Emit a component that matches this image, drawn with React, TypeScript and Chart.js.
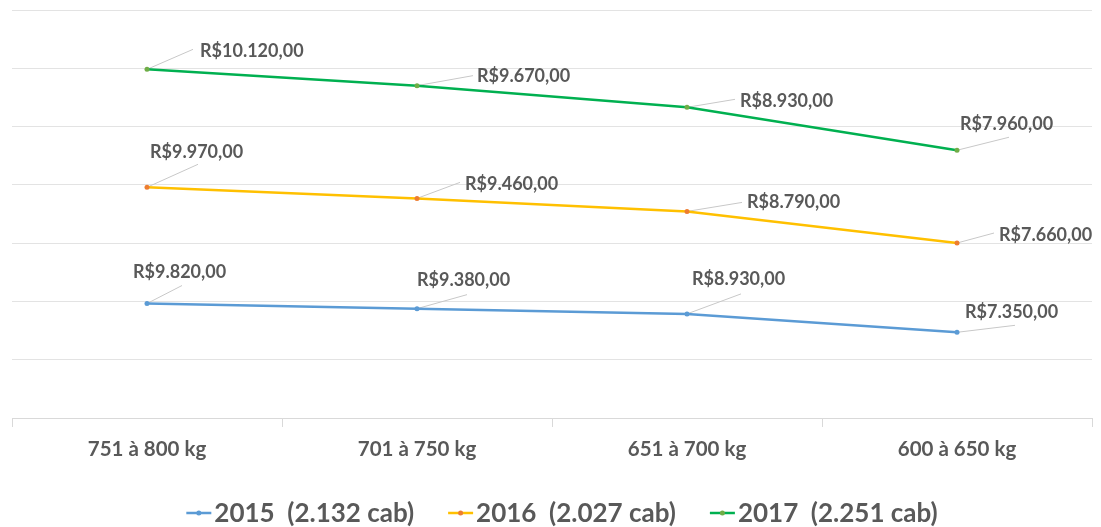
import React, { useEffect, useRef } from 'react';
import { Chart, registerables } from 'chart.js';

Chart.register(...registerables);

// ---- Data ----
const categories = ['751 à 800 kg', '701 à 750 kg', '651 à 700 kg', '600 à 650 kg'];
const seriesLabels = ['2015  (2.132 cab)', '2016  (2.027 cab)', '2017  (2.251 cab)'];
const values2015 = [9820, 9380, 8930, 7350];
const values2016 = [9970, 9460, 8790, 7660];
const values2017 = [10120, 9670, 8930, 7960];
const yMax = 35000;
const yStep = 5000;

// ---- Styles ----
const lineColors = ['#5B9BD5', '#FFC000', '#00B050'];
const markerColors = ['#5B9BD5', '#ED7D31', '#70AD47'];
const textColor = '#595959';
const fontFamily = 'Lato, "Open Sans", sans-serif';

// label placement (text left-middle and leader end, relative to point)
const labelOffsets = [
  [[-14, -31], [0, -28], [5, -35], [8, -20]],
  [[3, -35], [48, -14], [60, -9], [42, -8]],
  [[53, -18], [60, -9], [53, -6], [3, -26]],
];
const leaderEnds = [
  [[35, -18], [50, -14], [54, -20], [58, -7]],
  [[51, -23], [43, -16], [55, -9], [37, -10]],
  [[46, -20], [56, -10], [48, -8], [52, -13]],
];

function fmtBRL(v: number): string {
  const [intPart, dec] = v.toFixed(2).split('.');
  const withDots = intPart.replace(/\B(?=(\d{3})+(?!\d))/g, '.');
  return 'R$' + withDots + ',' + dec;
}

const leaderPlugin = {
  id: 'leaderLines',
  beforeDatasetsDraw(chart: any) {
    const ctx = chart.ctx;
    chart.data.datasets.forEach((ds: any, di: number) => {
      const meta = chart.getDatasetMeta(di);
      meta.data.forEach((pt: any, i: number) => {
        const [lx, ly] = leaderEnds[di][i];
        ctx.save();
        ctx.strokeStyle = '#c8c8c8';
        ctx.lineWidth = 1;
        ctx.beginPath();
        ctx.moveTo(pt.x, pt.y);
        ctx.lineTo(pt.x + lx, pt.y + ly);
        ctx.stroke();
        ctx.restore();
      });
    });
  },
  afterDatasetsDraw(chart: any) {
    const ctx = chart.ctx;
    chart.data.datasets.forEach((ds: any, di: number) => {
      const meta = chart.getDatasetMeta(di);
      meta.data.forEach((pt: any, i: number) => {
        const [tx, ty] = labelOffsets[di][i];
        ctx.save();
        ctx.font = `bold 18px ${fontFamily}`;
        ctx.fillStyle = textColor;
        ctx.textBaseline = 'middle';
        ctx.textAlign = 'left';
        ctx.fillText(fmtBRL(ds.data[i]), pt.x + tx, pt.y + ty);
        ctx.restore();
      });
    });
  },
};

const legendPlugin = {
  id: 'customLegend',
  afterDraw(chart: any) {
    const ctx = chart.ctx;
    const y = 513;
    const lineW = 25;
    const gap = 3;
    const itemGap = 34;
    ctx.save();
    ctx.font = `bold 26px ${fontFamily}`;
    const items = chart.data.datasets.map((ds: any, i: number) => ({
      text: ds.label,
      w: ctx.measureText(ds.label).width,
      color: ds.borderColor,
      marker: markerColors[i],
    }));
    const total = items.reduce((s: number, it: any) => s + lineW + gap + it.w, 0) + itemGap * (items.length - 1);
    let x = 562 - total / 2;
    items.forEach((it: any) => {
      ctx.strokeStyle = it.color;
      ctx.lineWidth = 2.5;
      ctx.beginPath();
      ctx.moveTo(x, y);
      ctx.lineTo(x + lineW, y);
      ctx.stroke();
      ctx.fillStyle = it.marker;
      ctx.beginPath();
      ctx.arc(x + lineW / 2, y, 2.5, 0, Math.PI * 2);
      ctx.fill();
      ctx.fillStyle = textColor;
      ctx.textBaseline = 'middle';
      ctx.textAlign = 'left';
      ctx.fillText(it.text, x + lineW + gap, y + 1);
      x += lineW + gap + it.w + itemGap;
    });
    ctx.restore();
  },
};

export default function App() {
  const canvasRef = useRef<HTMLCanvasElement | null>(null);

  useEffect(() => {
    if (!canvasRef.current) return;
    const seriesValues = [values2015, values2016, values2017];
    const chart = new Chart(canvasRef.current, {
      type: 'line',
      data: {
        labels: categories,
        datasets: seriesValues.map((vals, i) => ({
          label: seriesLabels[i],
          data: vals,
          borderColor: lineColors[i],
          backgroundColor: lineColors[i],
          pointBackgroundColor: markerColors[i],
          pointBorderColor: markerColors[i],
          pointRadius: 2.5,
          pointBorderWidth: 0,
          borderWidth: 2.5,
          tension: 0,
          fill: false,
        })),
      },
      options: {
        animation: false,
        responsive: true,
        maintainAspectRatio: false,
        layout: { padding: { left: 12, right: 9, top: 10, bottom: 49 } },
        plugins: {
          legend: { display: false },
          tooltip: { enabled: false },
        },
        scales: {
          x: {
            offset: true,
            grid: {
              offset: true,
              drawOnChartArea: false,
              drawTicks: true,
              tickLength: 9,
              color: '#d9d9d9',
            },
            border: { color: '#d9d9d9' },
            ticks: {
              font: { family: fontFamily, size: 20.5, weight: 'bold' },
              color: textColor,
              padding: 10,
            },
            afterFit: (s: any) => {
              s.height = 60;
            },
          },
          y: {
            stacked: true,
            min: 0,
            max: yMax,
            ticks: { stepSize: yStep, display: false },
            grid: { color: '#e3e3e3', drawTicks: false },
            border: { display: false },
          },
        },
      },
      plugins: [leaderPlugin, legendPlugin],
    });
    return () => chart.destroy();
  }, []);

  return (
    <div style={{ position: 'fixed', left: 0, top: 0, width: 1101, height: 527, background: '#fff' }}>
      <canvas ref={canvasRef} />
    </div>
  );
}
